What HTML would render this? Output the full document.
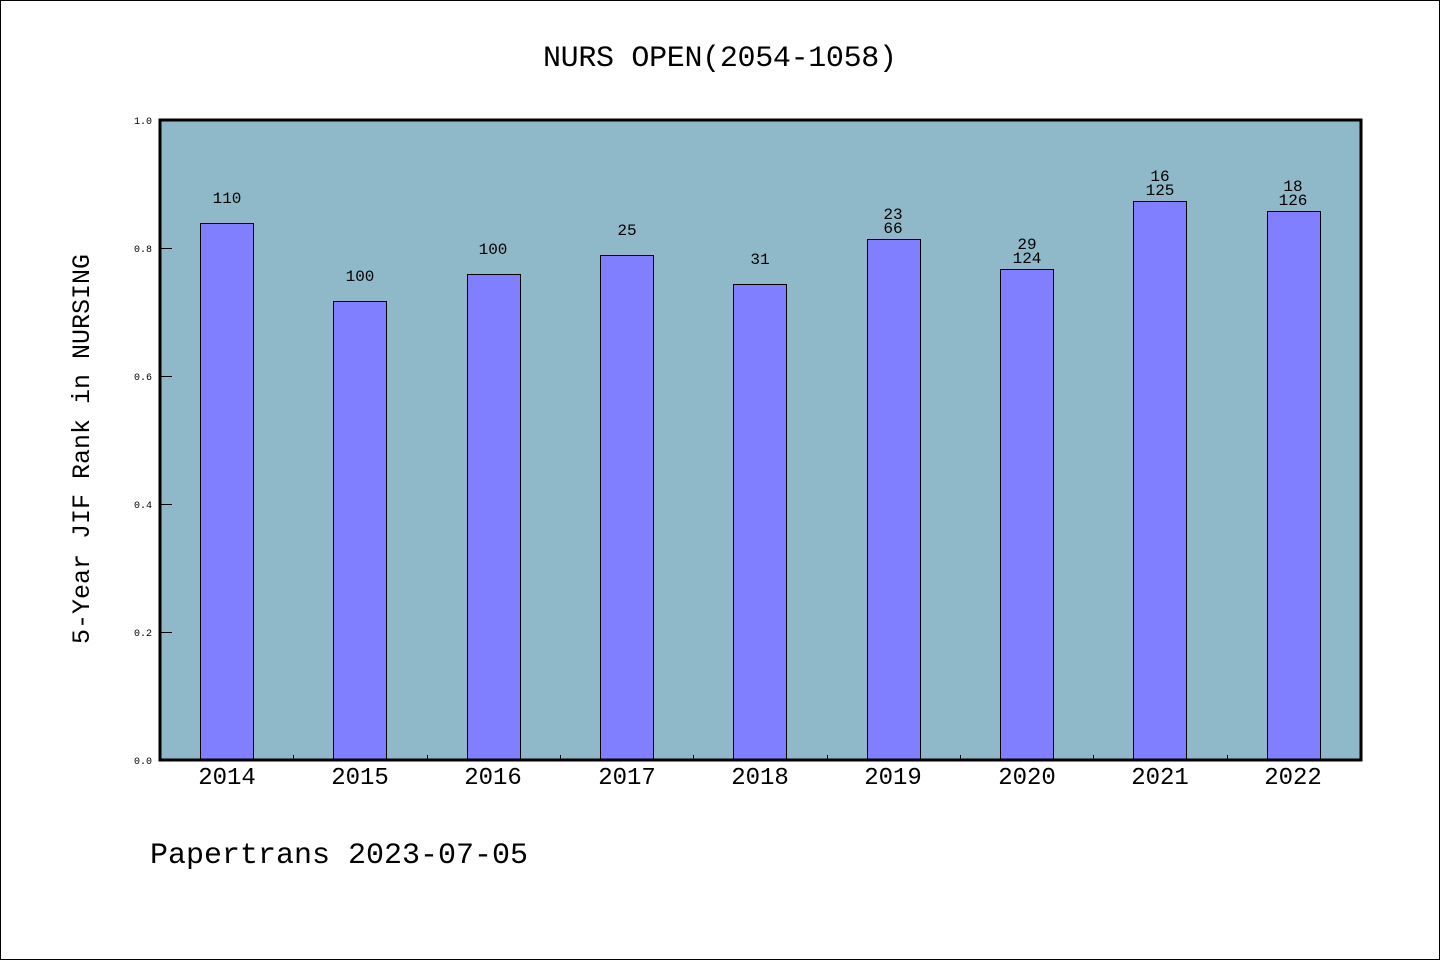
<!DOCTYPE html>
<html><head><meta charset="utf-8"><style>
html,body{margin:0;padding:0;background:#fff;}
svg{display:block;}
text{font-family:"Liberation Mono",monospace;fill:#000;}
</style></head><body>
<svg width="1440" height="960" xmlns="http://www.w3.org/2000/svg">
<rect x="0.5" y="0.5" width="1439" height="959" fill="#fff" stroke="#000" stroke-width="1"/>
<text x="720" y="66" font-size="30" text-anchor="middle" textLength="354">NURS OPEN(2054-1058)</text>
<rect x="160" y="120" width="1201" height="640" fill="#8fb8c8"/>
<g stroke="#000" stroke-width="1" fill="#7f7fff">
<rect x="200.5" y="223.5" width="53" height="537"/>
<rect x="333.5" y="301.5" width="53" height="459"/>
<rect x="467.5" y="274.5" width="53" height="486"/>
<rect x="600.5" y="255.5" width="53" height="505"/>
<rect x="733.5" y="284.5" width="53" height="476"/>
<rect x="867.5" y="239.5" width="53" height="521"/>
<rect x="1000.5" y="269.5" width="53" height="491"/>
<rect x="1133.5" y="201.5" width="53" height="559"/>
<rect x="1267.5" y="211.5" width="53" height="549"/>
</g>
<g stroke="#000" stroke-width="1">
<line x1="160" y1="248.5" x2="172" y2="248.5"/>
<line x1="160" y1="376.5" x2="172" y2="376.5"/>
<line x1="160" y1="504.5" x2="172" y2="504.5"/>
<line x1="160" y1="632.5" x2="172" y2="632.5"/>
<line x1="293.5" y1="755" x2="293.5" y2="760"/>
<line x1="427.5" y1="755" x2="427.5" y2="760"/>
<line x1="560.5" y1="755" x2="560.5" y2="760"/>
<line x1="693.5" y1="755" x2="693.5" y2="760"/>
<line x1="827.5" y1="755" x2="827.5" y2="760"/>
<line x1="960.5" y1="755" x2="960.5" y2="760"/>
<line x1="1093.5" y1="755" x2="1093.5" y2="760"/>
<line x1="1227.5" y1="755" x2="1227.5" y2="760"/>
</g>
<rect x="160" y="120" width="1201" height="640" fill="none" stroke="#000" stroke-width="3"/>
<g font-size="10" text-anchor="end" style="font-family:'Liberation Sans',sans-serif">
<text x="152" y="124">1.0</text>
<text x="152" y="252">0.8</text>
<text x="152" y="380">0.6</text>
<text x="152" y="508">0.4</text>
<text x="152" y="636">0.2</text>
<text x="152" y="764">0.0</text>
</g>
<g font-size="24" text-anchor="middle">
<text x="227" y="784">2014</text>
<text x="360" y="784">2015</text>
<text x="493" y="784">2016</text>
<text x="627" y="784">2017</text>
<text x="760" y="784">2018</text>
<text x="893" y="784">2019</text>
<text x="1027" y="784">2020</text>
<text x="1160" y="784">2021</text>
<text x="1293" y="784">2022</text>
</g>
<g font-size="16" text-anchor="middle">
<text x="227" y="203">110</text>
<text x="360" y="281">100</text>
<text x="493" y="254">100</text>
<text x="627" y="235">25</text>
<text x="760" y="264">31</text>
<text x="893" y="219">23</text><text x="893" y="233">66</text>
<text x="1027" y="249">29</text><text x="1027" y="263">124</text>
<text x="1160" y="181">16</text><text x="1160" y="195">125</text>
<text x="1293" y="191">18</text><text x="1293" y="205">126</text>
</g>
<text transform="translate(89,449) rotate(-90)" font-size="25" text-anchor="middle">5-Year JIF Rank in NURSING</text>
<text x="150" y="863" font-size="30">Papertrans 2023-07-05</text>
</svg>
</body></html>
